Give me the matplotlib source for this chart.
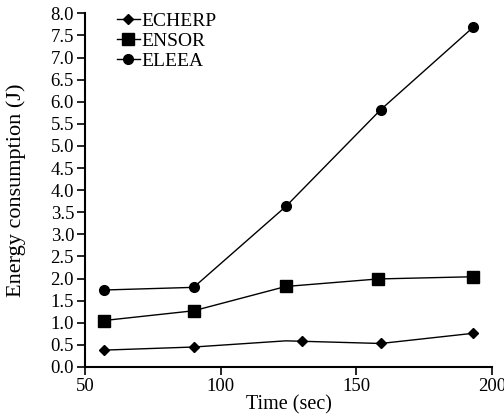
import matplotlib
matplotlib.use("Agg")
import matplotlib.pyplot as plt

plt.rcParams['font.family'] = ['Liberation Serif', 'DejaVu Serif']

# data
echerp_x = [57, 90, 124, 130, 159, 193]
echerp_y = [0.38, 0.45, 0.59, 0.58, 0.53, 0.76]
ensor_x = [57, 90, 124, 158, 193]
ensor_y = [1.05, 1.27, 1.82, 1.99, 2.04]
eleea_x = [57, 90, 124, 159, 193]
eleea_y = [1.74, 1.80, 3.63, 5.82, 7.68]

fig = plt.figure(figsize=(5.04, 4.16), dpi=100)
ax = fig.add_axes([0.169, 0.118, 0.807, 0.85])

# the ECHERP line has a bend without a marker at 124
ax.plot(echerp_x, echerp_y, color='black', lw=1.0, marker='D', ms=5.5,
        markevery=[0, 1, 3, 4, 5], label='ECHERP')
ax.plot(ensor_x, ensor_y, color='black', lw=1.0, marker='s', ms=8, label='ENSOR')
ax.plot(eleea_x, eleea_y, color='black', lw=1.0, marker='o', ms=7, label='ELEEA')

ax.set_xlim(50, 200)
ax.set_ylim(0, 8)
ax.set_xticks([50, 100, 150, 200])
ax.set_yticks([i * 0.5 for i in range(17)])
ax.set_yticklabels([f"{i * 0.5:.1f}" for i in range(17)])
ax.tick_params(labelsize=13.5, direction='out', length=6, width=1.2, pad=2)

for side in ['top', 'right']:
    ax.spines[side].set_visible(False)
for side in ['left', 'bottom']:
    ax.spines[side].set_linewidth(1.5)

ax.set_xlabel("Time (sec)", fontsize=14.5, labelpad=0)
ax.set_ylabel("Energy consumption (J)", fontsize=16, labelpad=18)

ax.legend(loc='upper left', bbox_to_anchor=(0.058, 1.025), frameon=False,
          fontsize=14, handlelength=1.2, handletextpad=0.1, labelspacing=0.12,
          borderaxespad=0)

fig.savefig("out.png", dpi=100)
